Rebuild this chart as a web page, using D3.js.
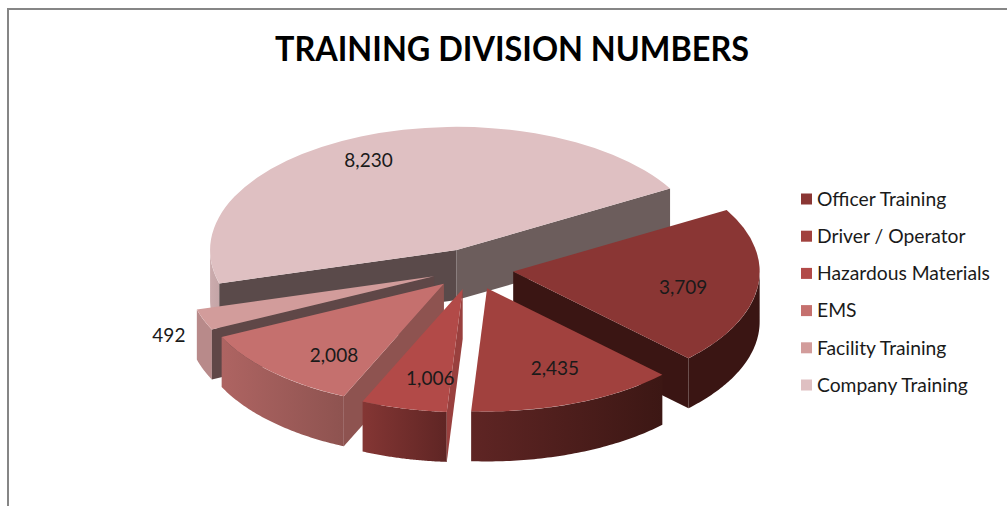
<!DOCTYPE html>
<html>
<head>
<meta charset="utf-8">
<script src="https://cdn.jsdelivr.net/npm/d3@7/dist/d3.min.js"></script>
<style>html,body{margin:0;padding:0;background:#fff;overflow:hidden}svg{display:block}text{font-family:Lato,"Open Sans",sans-serif}</style>
</head>
<body>
<svg id="c" width="1007" height="506"></svg>
<script>
const categories = ["Officer Training","Driver / Operator","Hazardous Materials","EMS","Facility Training","Company Training"];
const values = [3709,2435,1006,2008,492,8230];
const titleText = "TRAINING DIVISION NUMBERS";

// appearance, per category
const topColors = ["#8a3634","#a1413e","#b24a48","#c5706e","#d29c9b","#dfc0c2"];
const wallFrom  = ["#3a1513","#5f2524","#843634","#ae6462","#b88a8a","#cbabad"];
const wallTo    = ["#3a1513","#3c1714","#5f2524","#8e5350","#b88a8a","#c4a5a7"];
const cutStart  = ["#3a1513","#3a1513","#99403e","#8e5350","#5f4747","#5a4a4a"];
const cutEnd    = ["#3a1513","#3a1513","#99403e","#8e5350","#5f4747","#6c5d5c"];
const labelFx   = [0.695,0.775,0.55,0.64,1.15,0.92];
const labelFy   = [1.00,0.695,0.745,0.81,1.36,0.79];
const drawOrder = [5,0,4,3,2,1];

const W = 1007, H = 506;
const cx = 472.5, cy = 269, R = 246.5, k = 0.5, depth = 50, explode = 41;
const rad = d => d * Math.PI / 180;
const fmt = d3.format(",");
const svg = d3.select("#c");
const defs = svg.append("defs");

// frame
svg.append("path").attr("d", d3.line()([[W, 9], [8, 9], [8, H]]))
  .attr("fill", "none").attr("stroke", "#868686").attr("stroke-width", 2);

// title
svg.append("text").attr("x", 512).attr("y", 61).attr("text-anchor", "middle")
  .attr("font-size", 34).attr("font-weight", 700).attr("fill", "#000")
  .attr("textLength", 474).attr("lengthAdjust", "spacingAndGlyphs").text(titleText);

const pie = d3.pie().sort(null).startAngle(rad(60)).endAngle(rad(420));
const arcs = pie(values);
const arc = d3.arc().innerRadius(0).outerRadius(R);
const line = d3.line();

drawOrder.forEach(i => {
  const a = arcs[i];
  const mid = (a.startAngle + a.endAngle) / 2;
  const ax = cx + explode * Math.sin(mid);
  const ay = cy - explode * Math.cos(mid) * k;
  const px = t => ax + R * Math.sin(t);
  const py = t => ay - R * k * Math.cos(t);
  const g = svg.append("g");

  // curved outer wall: only the front half of the ellipse shows
  const from = Math.max(a.startAngle, rad(90));
  const to = Math.min(a.endAngle, rad(270));
  if (to > from) {
    const steps = d3.range(0, 61).map(s => from + (to - from) * s / 60);
    const upper = steps.map(t => [px(t), py(t)]);
    const lower = steps.slice().reverse().map(t => [px(t), py(t) + depth]);
    const id = "wall" + i;
    const grad = defs.append("linearGradient").attr("id", id)
      .attr("gradientUnits", "userSpaceOnUse")
      .attr("x1", Math.min(px(from), px(to))).attr("x2", Math.max(px(from), px(to)))
      .attr("y1", 0).attr("y2", 0);
    grad.append("stop").attr("offset", 0).attr("stop-color", wallFrom[i]);
    grad.append("stop").attr("offset", 1).attr("stop-color", wallTo[i]);
    g.append("path").attr("d", line(upper.concat(lower)) + "Z").attr("fill", `url(#${id})`);
  }

  // flat cut faces, shown when they turn towards the viewer
  [[a.startAngle, -Math.PI / 2, cutStart[i]], [a.endAngle, Math.PI / 2, cutEnd[i]]].forEach(([t, turn, col]) => {
    if (-Math.cos(t + turn) > 0) {
      g.append("path").attr("d", line([
        [ax, ay], [px(t), py(t)], [px(t), py(t) + depth], [ax, ay + depth]
      ]) + "Z").attr("fill", col);
    }
  });

  // top face
  g.append("path").attr("transform", `translate(${ax},${ay}) scale(1,${k})`)
    .attr("d", arc(a)).attr("fill", topColors[i]);
});

// value labels
categories.forEach((c, i) => {
  const a = arcs[i];
  const mid = (a.startAngle + a.endAngle) / 2;
  const ax = cx + explode * Math.sin(mid);
  const ay = cy - explode * Math.cos(mid) * k;
  svg.append("text")
    .attr("x", ax + labelFx[i] * R * Math.sin(mid))
    .attr("y", ay - labelFy[i] * R * k * Math.cos(mid))
    .attr("dy", "0.35em").attr("text-anchor", "middle")
    .attr("font-size", 19).attr("fill", "#1a1a1a").text(fmt(values[i]));
});

// legend
const legendY = d3.scalePoint().domain(categories).range([199, 385]);
const legend = svg.append("g").selectAll("g").data(categories).join("g")
  .attr("transform", d => `translate(801,${legendY(d)})`);
legend.append("rect").attr("x", 0).attr("y", -5.5).attr("width", 11).attr("height", 11)
  .attr("fill", (d, i) => topColors[i]);
legend.append("text").attr("x", 16).attr("dy", "0.35em")
  .attr("font-size", 19.3).attr("fill", "#1a1a1a").text(d => d);
</script>
</body>
</html>
